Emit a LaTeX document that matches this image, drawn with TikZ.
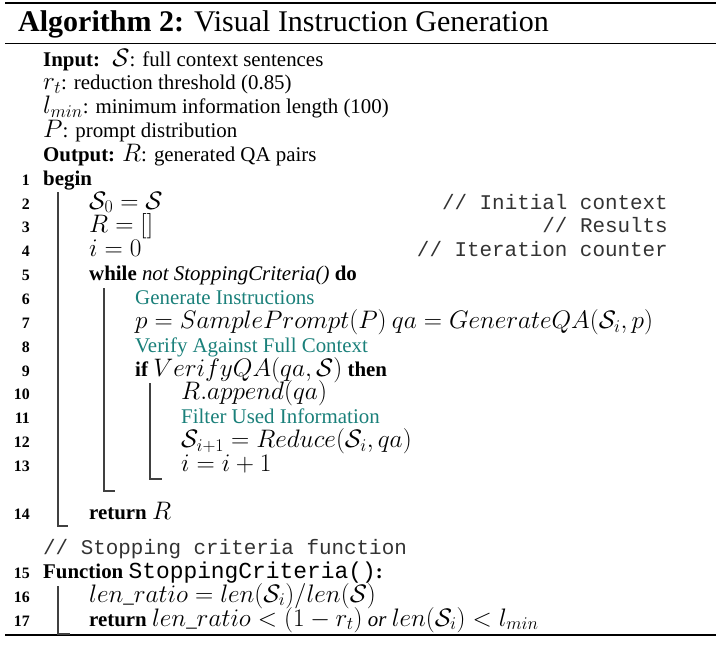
\RequirePackage{fix-cm}
\documentclass[tikz,border=0pt]{standalone}
\usepackage{amssymb}
\usepackage{amsmath}
\usepackage[no-math]{fontspec}
\setmainfont{Liberation Serif}
\setmonofont{Liberation Mono}
\usepackage{tikz}
\usetikzlibrary{positioning}
\definecolor{steptxt}{RGB}{26,128,122}
\DeclareMathSizes{20.9}{25.3}{17.9}{12.6}
\newcommand{\bodyfnt}{\fontsize{20.9}{23.85}\selectfont}
\newcommand{\numfnt}{\fontsize{15.9}{19}\selectfont\bfseries}
\tikzset{
  txt/.style={anchor=base west, inner sep=0pt, font=\bodyfnt},
  num/.style={anchor=base east, inner sep=0pt, font=\numfnt},
  cmt/.style={anchor=base east, inner sep=0pt, font=\bodyfnt\ttfamily, text=black!80},
  bar/.style={line width=1.2pt, black!75},
  toprule/.style={line width=2.6pt},
  midrule/.style={line width=1.6pt}
}

\begin{document}
\begin{tikzpicture}[x=1pt,y=-1pt]
\useasboundingbox (0,0) rectangle (719,664);
% rules
\coordinate (tl) at (5,3);
\coordinate (tr) at (716,3);
\coordinate (ml) at (5,43.5);
\coordinate (mr) at (716,43.5);
\coordinate (bl) at (5,635);
\coordinate (br) at (716,635);
\draw[toprule] (tl) -- (tr);
\draw[midrule] (ml) -- (mr);
\draw[toprule] (bl) -- (br);
% caption
\node[anchor=base west, inner sep=0pt, font=\fontsize{30}{34}\selectfont] (cap) at (18,31)
  {\textbf{Algorithm 2:} Visual Instruction Generation};
% input / output
\node[txt] (in) at (43,66) {\textbf{Input:} \ $\mathcal{S}$: full context sentences};
\node[txt] (rt) at (43,89.85) {$r_t$: reduction threshold (0.85)};
\node[txt] (lm) at (43,113.7) {$l_{min}$: minimum information length (100)};
\node[txt] (pd) at (43,137.55) {$P$: prompt distribution};
\node[txt] (out) at (43,161.4) {\textbf{Output:} $R$: generated QA pairs};
% line numbers
\foreach \n/\y in {1/185.25,2/209.1,3/232.95,4/256.8,5/280.65,6/304.5,7/328.35,
  8/352.2,9/376.05,10/399.9,11/423.75,12/447.6,13/471.45,14/519.15,
  15/578,16/602,17/626}
  \node[num] (n\n) at (30,\y) {\n};
% body
\node[txt] (l1) at (43,185.25) {\textbf{begin}};
\node[txt] (l2) at (89,209.1) {$\mathcal{S}_0 = \mathcal{S}$};
\node[txt] (l3) at (89,232.95) {$R = []$};
\node[txt] (l4) at (89,256.8) {$i = 0$};
\node[txt] (l5) at (89,280.65) {\textbf{while} \textit{not StoppingCriteria()} \textbf{do}};
\node[txt, text=steptxt] (l6) at (135,304.5) {Generate Instructions};
\node[txt] (l7) at (135,328.35) {$p = SamplePrompt(P)\ qa = GenerateQA(\mathcal{S}_i, p)$};
\node[txt, text=steptxt] (l8) at (135,352.2) {Verify Against Full Context};
\node[txt] (l9) at (135,376.05) {\textbf{if} $VerifyQA(qa, \mathcal{S})$ \textbf{then}};
\node[txt] (l10) at (181,399.9) {$R.append(qa)$};
\node[txt, text=steptxt] (l11) at (181,423.75) {Filter Used Information};
\node[txt] (l12) at (181,447.6) {$\mathcal{S}_{i+1} = Reduce(\mathcal{S}_i, qa)$};
\node[txt] (l13) at (181,471.45) {$i = i + 1$};
\node[txt] (l14) at (89,519.15) {\textbf{return} $R$};
% comments
\node[cmt] (c2) at (668,209.1) {// Initial context};
\node[cmt] (c3) at (668,232.95) {// Results};
\node[cmt] (c4) at (668,256.8) {// Iteration counter};
\node[txt, font=\bodyfnt\ttfamily, text=black!80] (cf) at (43,554) {// Stopping criteria function};
% function
\node[txt] (l15) at (43,578) {\textbf{Function} {\fontsize{22.9}{23.85}\selectfont\ttfamily StoppingCriteria()}\textbf{:}};
\node[txt] (l16) at (89,602) {$len\_ratio = len(\mathcal{S}_i)/len(\mathcal{S})$};
\node[txt] (l17) at (89,626) {\textbf{return} $len\_ratio < (1 - r_t)$ \textit{or} $len(\mathcal{S}_i) < l_{min}$};
% block bars
\coordinate (b1) at (58,192);
\coordinate (b1e) at (68,526);
\coordinate (b2) at (104,288);
\coordinate (b2e) at (115,491);
\coordinate (b3) at (150,383);
\coordinate (b3e) at (162,479);
\coordinate (b4) at (58,586);
\coordinate (b4e) at (70,634);
\draw[bar] (b1) |- (b1e);
\draw[bar] (b2) |- (b2e);
\draw[bar] (b3) |- (b3e);
\draw[bar] (b4) |- (b4e);
\end{tikzpicture}
\end{document}
